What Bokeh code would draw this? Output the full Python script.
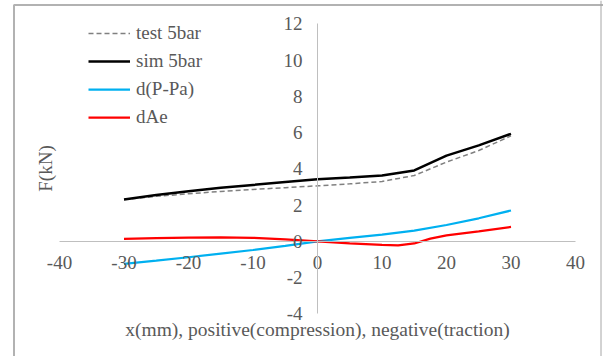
import math
from bokeh.plotting import figure
from bokeh.models import Range1d, Label, Span, BoxAnnotation, FixedTicker
from bokeh.embed import file_html
from bokeh.resources import INLINE

# ---- data ----
x_mm = [-30, -25, -20, -15, -10, -5, 0, 5, 10, 15, 20, 25, 30]
test_5bar = [2.30, 2.48, 2.62, 2.75, 2.86, 2.96, 3.06, 3.17, 3.30, 3.63, 4.37, 5.01, 5.82]
sim_5bar = [2.30, 2.55, 2.76, 2.95, 3.11, 3.27, 3.42, 3.52, 3.63, 3.91, 4.73, 5.29, 5.93]
d_p_pa = [-1.25, -1.07, -0.88, -0.68, -0.48, -0.25, 0.0, 0.19, 0.37, 0.59, 0.90, 1.27, 1.70]
dae_x = [-30, -25, -20, -15, -10, -5, 0, 5, 10, 12.5, 15, 17.5, 20, 25, 30]
dae = [0.13, 0.17, 0.20, 0.22, 0.19, 0.11, 0.0, -0.11, -0.20, -0.22, -0.12, 0.15, 0.33, 0.55, 0.79]

x_ticks = [-40, -30, -20, -10, 0, 10, 20, 30, 40]
y_ticks = [-4, -2, 0, 2, 4, 6, 8, 10, 12]
x_tick_labels = ["-40", "-30", "-20", "-10", "0", "10", "20", "30", "40"]
y_tick_labels = ["-4", "-2", "0", "2", "4", "6", "8", "10", "12"]
x_title = "x(mm), positive(compression), negative(traction)"
y_title = "F(kN)"

FONT = "Liberation Serif"
TXT = "#595959"
FS = "19px"

W, H = 603, 356
x0_px, x_scale = 317.0, 6.45
y0_px, y_scale = 240.8, 18.125

p = figure(width=W, height=H, output_backend="svg", toolbar_location=None,
           min_border=0, min_border_left=0, min_border_right=0,
           min_border_top=0, min_border_bottom=0)
p.x_range = Range1d(-x0_px / x_scale, (W - x0_px) / x_scale)
p.y_range = Range1d((y0_px - H) / y_scale, y0_px / y_scale)
p.outline_line_color = None
p.grid.visible = False
p.background_fill_color = "white"
p.border_fill_color = "white"

for ax in (p.xaxis[0], p.yaxis[0]):
    ax.fixed_location = 0
    ax.axis_line_color = "#bfbfbf"
    ax.axis_line_width = 1
    ax.major_tick_line_color = None
    ax.minor_tick_line_color = None
    ax.major_tick_out = 0
    ax.major_tick_in = 0
    ax.major_label_text_font = FONT
    ax.major_label_text_font_size = FS
    ax.major_label_text_color = TXT
p.xaxis[0].ticker = FixedTicker(ticks=x_ticks)
p.yaxis[0].ticker = FixedTicker(ticks=y_ticks)
p.xaxis[0].major_label_overrides = {t: s for t, s in zip(x_ticks, x_tick_labels)}
p.yaxis[0].major_label_overrides = {t: s for t, s in zip(y_ticks, y_tick_labels)}
p.xaxis[0].bounds = (x_ticks[0], x_ticks[-1])
p.yaxis[0].bounds = (y_ticks[0], y_ticks[-1])
p.xaxis[0].major_label_standoff = 15
p.yaxis[0].major_label_standoff = 15

p.line(x_mm, test_5bar, line_color="#808080", line_width=1.5, line_dash="5 3",
       legend_label="test 5bar")
p.line(x_mm, sim_5bar, line_color="black", line_width=2.5, legend_label="sim 5bar")
p.line(x_mm, d_p_pa, line_color="#00b0f0", line_width=2.25, legend_label="d(P-Pa)")
p.line(dae_x, dae, line_color="#ff0000", line_width=2.25, legend_label="dAe")

lg = p.legend[0]
lg.location = (88, 228)
lg.background_fill_alpha = 0
lg.border_line_color = None
lg.padding = 0
lg.margin = 0
lg.spacing = 6
lg.glyph_width = 42
lg.glyph_height = 20
lg.label_height = 20
lg.label_standoff = 6
lg.label_text_font = FONT
lg.label_text_font_size = FS
lg.label_text_color = TXT

p.add_layout(Label(x=(45 - x0_px) / x_scale, y=(y0_px - 168) / y_scale, text=y_title,
                   angle=math.pi / 2, text_align="center", text_baseline="middle",
                   text_font=FONT, text_font_size=FS, text_color=TXT))
p.add_layout(Label(x=(317 - x0_px) / x_scale, y=(y0_px - 329) / y_scale, text=x_title,
                   text_align="center", text_baseline="middle",
                   text_font=FONT, text_font_size="19.5px", text_color=TXT))

# chart border
p.add_layout(BoxAnnotation(left=(13.5 - x0_px) / x_scale, right=60,
                           top=(y0_px - 4.5) / y_scale, bottom=-20,
                           fill_alpha=0, line_color="black", line_width=2))
p.add_layout(Span(location=(600.5 - x0_px) / x_scale, dimension="height",
                  line_color="#a6a6a6", line_width=1))

open("out.html", "w").write(file_html(p, INLINE))
